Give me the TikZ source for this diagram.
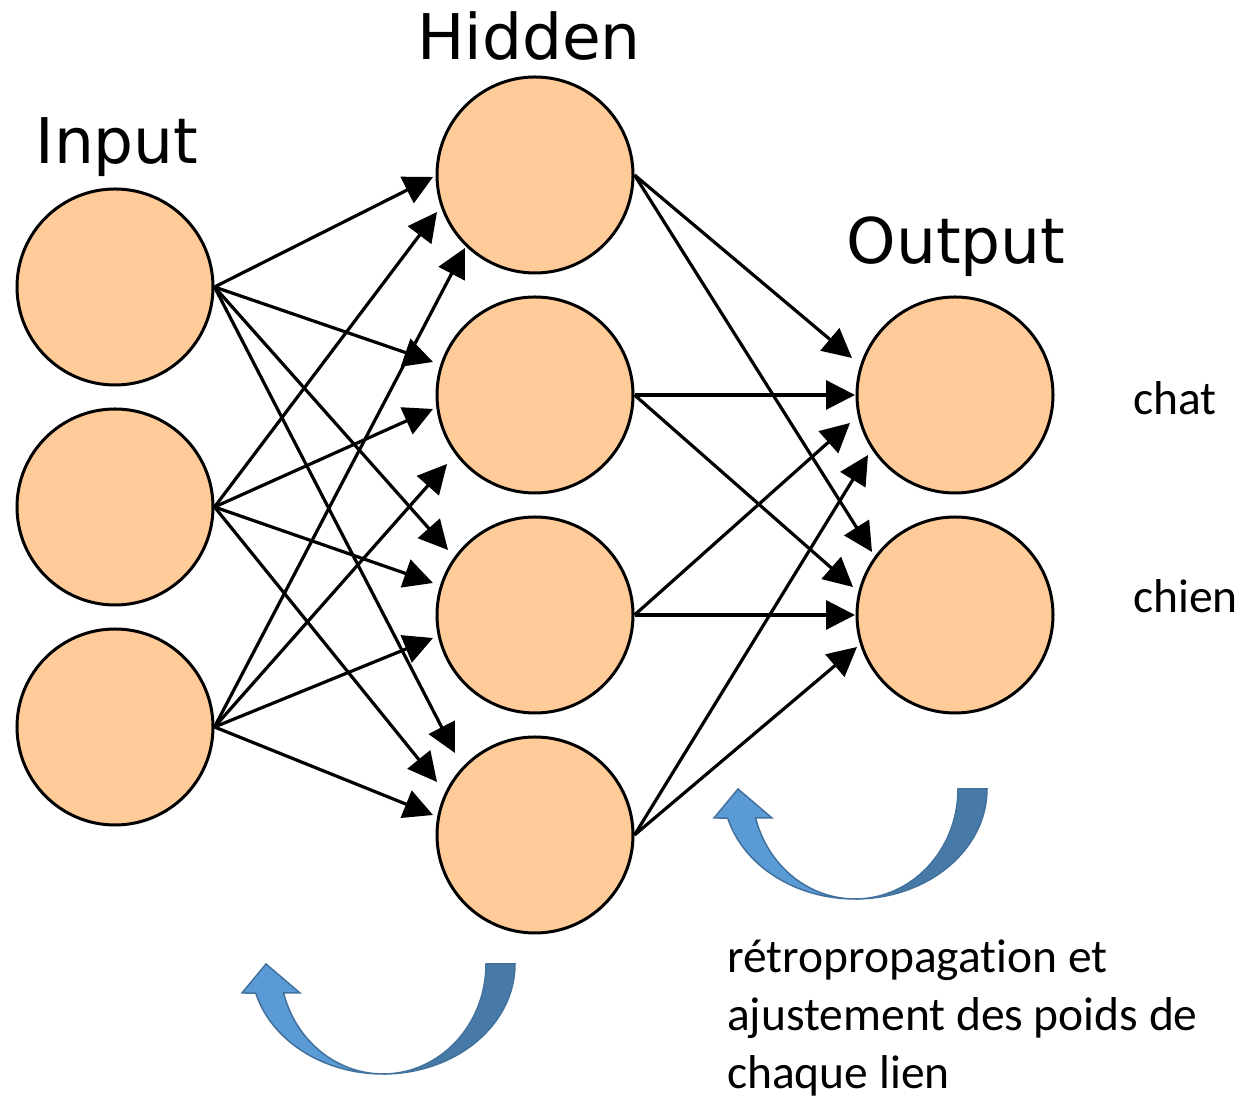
\documentclass[tikz,border=0pt]{standalone}
\usepackage{fontspec}
\usetikzlibrary{arrows.meta,calc}
\newfontfamily\dejavu{DejaVu Sans}
\newfontfamily\carlito[Ligatures=NoCommon]{Carlito}
\definecolor{peach}{RGB}{255,204,153}
\definecolor{lightband}{RGB}{91,155,213}
\definecolor{darkband}{RGB}{72,122,168}
\definecolor{bandedge}{RGB}{65,113,156}
\tikzset{
  neuron/.style={circle, draw=black, fill=peach, line width=3pt, minimum size=196pt, inner sep=0pt},
  conn/.style={line width=3.2pt, -{Triangle[length=29pt,width=29pt]}},
  layerlbl/.style={font=\dejavu\fontsize{63}{75}\selectfont, inner sep=0pt, anchor=base},
  classlbl/.style={font=\carlito\fontsize{47.5}{58}\selectfont, inner sep=0pt, anchor=base west},
  backarrow/.pic={
    \draw[fill=darkband, draw=bandedge, line width=1.5pt]
      (132,0) arc[start angle=0,end angle=-90,x radius=132,y radius=110]
      arc[start angle=-90,end angle=0,x radius=103,y radius=110] -- cycle;
    \draw[fill=lightband, draw=bandedge, line width=1.5pt]
      (0,-110) arc[start angle=270,end angle=195.3,x radius=132,y radius=110]
      -- (-141,-29) -- (-117,0) -- (-83,-29) -- (-99.4,-29)
      arc[start angle=195.3,end angle=270,x radius=103,y radius=110] -- cycle;
  }
}
\begin{document}
\begin{tikzpicture}[x=1pt,y=1pt]
\useasboundingbox (0,0) rectangle (1245,1102);
% neurons
\node[neuron] (i1) at (115,815) {};
\node[neuron] (i2) at (115,595) {};
\node[neuron] (i3) at (115,375) {};
\node[neuron] (h1) at (535,927) {};
\node[neuron] (h2) at (535,707) {};
\node[neuron] (h3) at (535,487) {};
\node[neuron] (h4) at (535,267) {};
\node[neuron] (o1) at (955,707) {};
\node[neuron] (o2) at (955,487) {};
% labels
\node[layerlbl] (lin) at (117,938) {Input};
\node[layerlbl] (lhid) at (529,1042) {Hidden};
\node[layerlbl] (lout) at (956,838) {Output};
\node[classlbl] (lchat) at (1133,687) {chat};
\node[classlbl] (lchien) at (1133,489) {chien};
\node[classlbl, align=left] (lback) at (727,13) {rétropropagation et\\ajustement des poids de\\chaque lien};
% input -> hidden
\draw[conn] (i1.east) -- ($(h1)+(-102,-2)$);
\draw[conn] (i2.east) -- ($(h1)+(-98,-37)$);
\draw[conn] (i3.east) -- ($(h1)+(-70,-73)$);
\draw[conn] (i1.east) -- ($(h2)+(-102,33)$);
\draw[conn] (i2.east) -- ($(h2)+(-102,-14)$);
\draw[conn] (i3.east) -- ($(h2)+(-88,-69)$);
\draw[conn] (i1.east) -- ($(h3)+(-87,65)$);
\draw[conn] (i2.east) -- ($(h3)+(-102,32)$);
\draw[conn] (i3.east) -- ($(h3)+(-102,-23)$);
\draw[conn] (i1.east) -- ($(h4)+(-80,82)$);
\draw[conn] (i2.east) -- ($(h4)+(-98,53)$);
\draw[conn] (i3.east) -- ($(h4)+(-102,20)$);
% hidden -> output
\draw[conn] (h1.east) -- ($(o1)+(-103,37)$);
\draw[conn] (h2.east) -- ($(o1)+(-100,0)$);
\draw[conn] (h3.east) -- ($(o1)+(-105,-28)$);
\draw[conn] (h4.east) -- ($(o1)+(-87,-60)$);
\draw[conn] (h1.east) -- ($(o2)+(-83,63)$);
\draw[conn] (h2.east) -- ($(o2)+(-102,28)$);
\draw[conn] (h3.east) -- ($(o2)+(-100,0)$);
\draw[conn] (h4.east) -- ($(o2)+(-98,-32)$);
% curved back-propagation arrows
\pic (bp1) at (383,138) {backarrow};
\pic (bp2) at (855,313) {backarrow};
\end{tikzpicture}
\end{document}
